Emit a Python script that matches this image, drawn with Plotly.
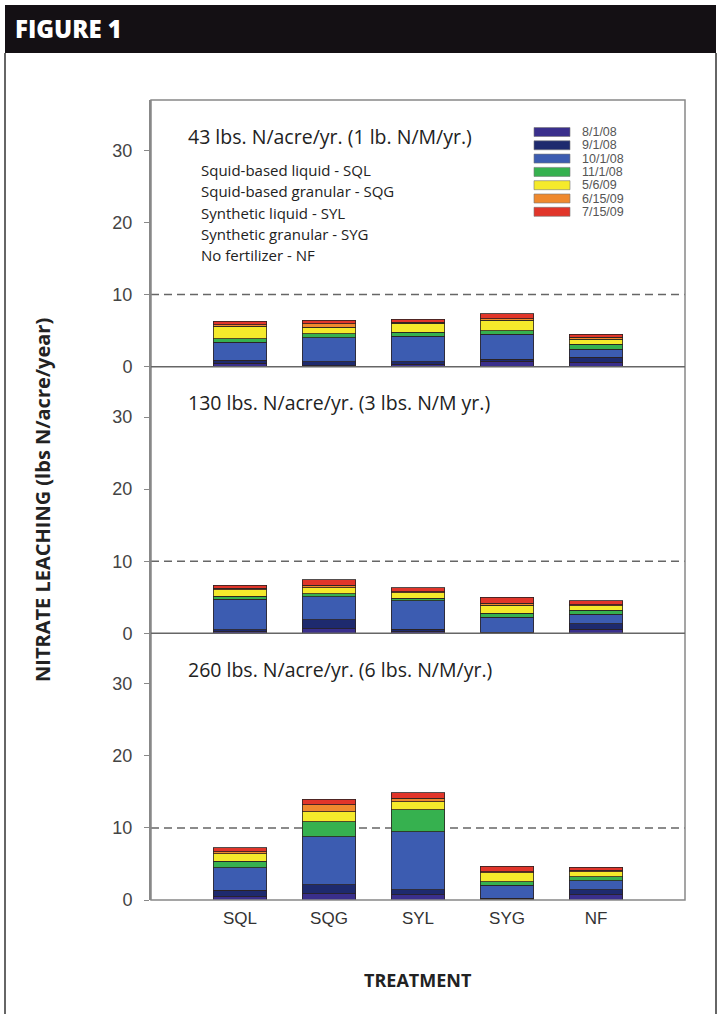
import plotly.graph_objects as go
from plotly.subplots import make_subplots

treatments = ["SQL", "SQG", "SYL", "SYG", "NF"]
dates = ["8/1/08", "9/1/08", "10/1/08", "11/1/08", "5/6/09", "6/15/09", "7/15/09"]
colors = ["#3a2f8c", "#1e2a6e", "#3c5cb1", "#36b14f", "#f5ea2b", "#ef892e", "#e1352a"]

# rows follow `dates`, columns follow `treatments`
rate_43 = [
    [0.50, 0.15, 0.35, 0.75, 0.60],
    [0.40, 0.55, 0.35, 0.30, 0.70],
    [2.50, 3.30, 3.50, 3.45, 1.10],
    [0.50, 0.55, 0.55, 0.45, 0.70],
    [1.70, 0.90, 1.25, 1.50, 0.70],
    [0.20, 0.50, 0.15, 0.20, 0.25],
    [0.50, 0.50, 0.45, 0.70, 0.45],
]
rate_130 = [
    [0.20, 0.65, 0.25, 0.05, 0.60],
    [0.30, 1.25, 0.30, 0.10, 0.75],
    [4.20, 3.20, 4.00, 2.10, 1.30],
    [0.45, 0.40, 0.35, 0.55, 0.55],
    [0.90, 0.80, 0.70, 1.10, 0.60],
    [0.20, 0.40, 0.20, 0.30, 0.20],
    [0.40, 0.75, 0.50, 0.80, 0.50],
]
rate_260 = [
    [0.45, 0.90, 0.70, 0.10, 0.70],
    [0.90, 1.20, 0.70, 0.13, 0.70],
    [3.15, 6.70, 8.10, 1.85, 1.30],
    [0.90, 2.05, 3.00, 0.47, 0.55],
    [1.00, 1.40, 1.15, 1.20, 0.70],
    [0.30, 0.95, 0.45, 0.15, 0.15],
    [0.55, 0.80, 0.80, 0.80, 0.45],
]
panel_titles = ["43 lbs. N/acre/yr. (1 lb. N/M/yr.)",
                "130 lbs. N/acre/yr. (3 lbs. N/M yr.)",
                "260 lbs. N/acre/yr. (6 lbs. N/M/yr.)"]
key_lines = ["Squid-based liquid - SQL", "Squid-based granular - SQG",
             "Synthetic liquid - SYL", "Synthetic granular - SYG", "No fertilizer - NF"]
y_ticks = [0, 10, 20, 30]
limit_line = 10

W, H = 721, 1014
L, R, T, B = 151, 685, 100, 900


def px_x(p):
    return (p - L) / (R - L)


def px_y(p):
    return (B - p) / (B - T)


fig = make_subplots(rows=3, cols=1, shared_xaxes=True, vertical_spacing=0)
xpos = list(range(1, len(treatments) + 1))
for row, panel in enumerate([rate_43, rate_130, rate_260], start=1):
    for d, vals in enumerate(panel):
        fig.add_trace(go.Bar(x=xpos, y=vals, name=dates[d], width=0.6,
                             marker=dict(color=colors[d], line=dict(color="#2a2222", width=0.8)),
                             showlegend=False), row=row, col=1)

fig.update_layout(barmode="stack", width=W, height=H,
                  margin=dict(l=L, r=W - R, t=T, b=H - B),
                  paper_bgcolor="white", plot_bgcolor="white")
for row in (1, 2, 3):
    fig.update_yaxes(range=[0, 37], tickvals=y_ticks, ticks="outside", ticklen=5,
                     tickcolor="#888", showline=True, linecolor="#888", linewidth=2,
                     showgrid=False, zeroline=False, ticklabelstandoff=8,
                     tickfont=dict(family="Arial", size=18, color="#444"), row=row, col=1)
    fig.update_xaxes(range=[0, 6], showgrid=False, zeroline=False, showline=False,
                     tickvals=xpos, ticktext=treatments, ticks="",
                     showticklabels=(row == 3), ticklabelstandoff=6,
                     tickfont=dict(family="Arial", size=17, color="#333"), row=row, col=1)

shapes = []
# banner and outer frame
shapes.append(dict(type="rect", xref="paper", yref="paper", x0=px_x(5), x1=px_x(716),
                   y0=px_y(53), y1=px_y(5), fillcolor="#141014", line=dict(width=0), layer="below"))
for xx in (5, 716):
    shapes.append(dict(type="line", xref="paper", yref="paper", x0=px_x(xx), x1=px_x(xx),
                       y0=px_y(53), y1=px_y(1014), line=dict(color="#333", width=1.5)))
# plot frame
shapes.append(dict(type="rect", xref="paper", yref="paper", x0=0, x1=1, y0=0, y1=1,
                   line=dict(color="#888", width=1.5)))
for yy in (1 / 3, 2 / 3):
    shapes.append(dict(type="line", xref="paper", yref="paper", x0=0, x1=1, y0=yy, y1=yy,
                       line=dict(color="#666", width=1.5)))
for ya in ("y", "y2", "y3"):
    shapes.append(dict(type="line", xref="paper", yref=ya, x0=0, x1=1,
                       y0=limit_line, y1=limit_line,
                       line=dict(color="#666", width=1.5, dash="8px,5px"), layer="below"))
# legend swatches
for i, (d, c) in enumerate(zip(dates, colors)):
    cy = 132 + 13.3 * i
    shapes.append(dict(type="rect", xref="paper", yref="paper", x0=px_x(534), x1=px_x(570),
                       y0=px_y(cy + 4.5), y1=px_y(cy - 4.5), fillcolor=c,
                       line=dict(color="#777", width=0.6)))

ann = []
ann.append(dict(text="FIGURE 1", xref="paper", yref="paper", x=px_x(13), y=px_y(29),
                xanchor="left", yanchor="middle", showarrow=False,
                font=dict(family="Open Sans", size=24, color="white", weight=800)))
for i, d in enumerate(dates):
    cy = 132 + 13.3 * i
    ann.append(dict(text=d, xref="paper", yref="paper", x=px_x(580), y=px_y(cy),
                    xanchor="left", yanchor="middle", showarrow=False,
                    font=dict(family="Arial", size=12.5, color="#555")))
for i, (t, ya) in enumerate(zip(panel_titles, ("y", "y2", "y3"))):
    ann.append(dict(text=t, xref="paper", yref=ya, x=px_x(186), y=32.0,
                    xanchor="left", yanchor="middle", showarrow=False,
                    font=dict(family="Open Sans", size=19.5, color="#222")))
for i, t in enumerate(key_lines):
    ann.append(dict(text=t, xref="paper", yref="paper", x=px_x(199), y=px_y(170 + 21.3 * i),
                    xanchor="left", yanchor="middle", showarrow=False,
                    font=dict(family="Open Sans", size=15, color="#222")))
ann.append(dict(text="<b>NITRATE LEACHING (lbs N/acre/year)</b>", xref="paper", yref="paper",
                x=px_x(42), y=0.5, textangle=-90, xanchor="center", yanchor="middle",
                showarrow=False, font=dict(family="Open Sans", size=20, color="#222")))
ann.append(dict(text="<b>TREATMENT</b>", xref="paper", yref="paper",
                x=0.5, y=px_y(980), xanchor="center", yanchor="middle",
                showarrow=False, font=dict(family="Open Sans", size=18, color="#222")))

fig.update_layout(shapes=shapes, annotations=ann)
fig.write_html("out.html", config={"displayModeBar": False},
               post_script="document.body.style.margin='0px';")
